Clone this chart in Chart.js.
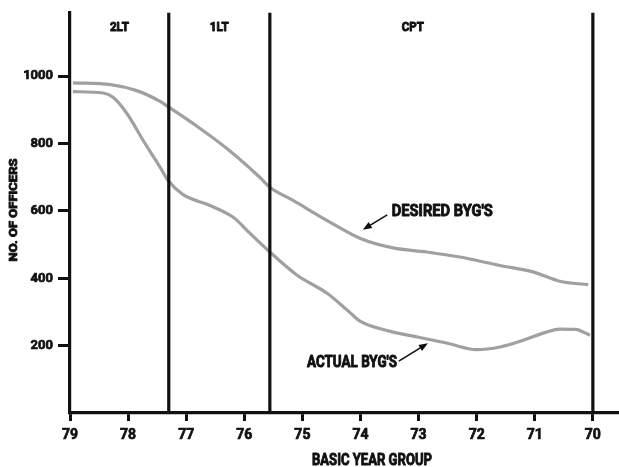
<!DOCTYPE html>
<html><head><meta charset="utf-8">
<script src="https://cdn.jsdelivr.net/npm/chart.js@4"></script>
<style>html,body{margin:0;padding:0;background:#fff}#wrap{width:619px;height:467px}</style>
</head><body><div id="wrap"><canvas id="c" width="619" height="467"></canvas></div>
<script>
// ---- data ----
const yearTicks = [79, 78, 77, 76, 75, 74, 73, 72, 71, 70];
const valueTicks = [200, 400, 600, 800, 1000];
const desiredYears  = [78.95, 78.3, 77.85, 77.45, 77.3, 76.88, 76.3, 75.73, 75.56, 75.16, 74.58, 74.0, 73.44, 72.86, 72.29, 71.6, 71.03, 70.57, 70.08];
const desiredValues = [980, 975, 957, 925, 908, 859, 785, 699, 670, 631, 572, 518, 490, 478, 463, 438, 419, 391, 381];
const actualYears  = [78.95, 78.43, 78.26, 78.02, 77.74, 77.45, 77.31, 77.06, 76.59, 76.19, 75.9, 75.56, 75.09, 74.58, 74.18, 74.0, 73.5, 73.0, 72.5, 72.0, 71.6, 71.2, 70.8, 70.57, 70.3, 70.05];
const actualValues = [954, 950, 937, 889, 809, 730, 690, 649, 616, 581, 533, 478, 409, 356, 298, 272, 243, 225, 207, 188, 196, 216, 240, 249, 248, 231];
const rankNames = ['2LT', '1LT', 'CPT'];
const rankBoundaries = [77.3, 75.56, 70];
const rankLabelYears = [78.15, 76.43, 73.1];
const seriesNames = ["DESIRED BYG'S", "ACTUAL BYG'S"];
// ----

const FONT = "Roboto, 'DejaVu Sans', sans-serif";
const X_MIN = 69.55, X_MAX = 79, Y_MAX = 1188;

const notes = [
  {text: seriesNames[0], tx: 73.46, ty: 596, w: 101, from: [73.54, 588], to: [73.96, 544]},
  {text: seriesNames[1], tx: 74.92, ty: 148, w: 90, from: [73.34, 154], to: [72.84, 207]}
];
const rankWidths = [19, 19, 22];

const toXY = (xs, ys) => xs.map((x, i) => ({x: x, y: ys[i]}));

const boundarySets = rankBoundaries.map(b => ({
  data: [{x: b, y: 0}, {x: b, y: Y_MAX}],
  borderColor: '#111', borderWidth: 3.2, pointRadius: 0, tension: 0, clip: false
}));

function fitText(ctx, text, x, y, size, width, align) {
  ctx.save();
  ctx.font = 'bold ' + size + 'px ' + FONT;
  const m = ctx.measureText(text).width;
  const sx = width / m;
  ctx.translate(x, y);
  ctx.scale(sx, 1);
  ctx.textAlign = align; ctx.textBaseline = 'middle';
  ctx.lineWidth = 0.9; ctx.lineJoin = 'round';
  ctx.fillText(text, 0, 0);
  ctx.strokeText(text, 0, 0);
  ctx.restore();
}

const overlay = {
  id: 'overlay',
  afterDraw(chart) {
    const ctx = chart.ctx, xs = chart.scales.x, ys = chart.scales.y, ca = chart.chartArea;
    ctx.save();
    ctx.fillStyle = '#111';
    ctx.strokeStyle = '#111';
    rankNames.forEach((n, i) => fitText(ctx, n, xs.getPixelForValue(rankLabelYears[i]), ca.top + 15, 12, rankWidths[i], 'center'));
    fitText(ctx, 'BASIC YEAR GROUP', ca.left + (ca.right - ca.left) * 0.55, 461, 16, 120, 'center');
    ctx.save();
    ctx.translate(14, 210); ctx.rotate(-Math.PI / 2);
    fitText(ctx, 'NO. OF OFFICERS', 0, 0, 11.5, 103, 'center');
    ctx.restore();
    notes.forEach(n => {
      fitText(ctx, n.text, xs.getPixelForValue(n.tx), ys.getPixelForValue(n.ty), 16, n.w, 'left');
      const x1 = xs.getPixelForValue(n.from[0]), y1 = ys.getPixelForValue(n.from[1]);
      const x2 = xs.getPixelForValue(n.to[0]), y2 = ys.getPixelForValue(n.to[1]);
      const a = Math.atan2(y2 - y1, x2 - x1);
      ctx.lineWidth = 1.6;
      ctx.beginPath(); ctx.moveTo(x1, y1);
      ctx.lineTo(x2 - 6 * Math.cos(a), y2 - 6 * Math.sin(a)); ctx.stroke();
      ctx.beginPath();
      ctx.moveTo(x2, y2);
      ctx.lineTo(x2 - 9 * Math.cos(a) + 3.5 * Math.sin(a), y2 - 9 * Math.sin(a) - 3.5 * Math.cos(a));
      ctx.lineTo(x2 - 9 * Math.cos(a) - 3.5 * Math.sin(a), y2 - 9 * Math.sin(a) + 3.5 * Math.cos(a));
      ctx.closePath(); ctx.fill();
    });
    ctx.restore();
  }
};

new Chart(document.getElementById('c'), {
  type: 'line',
  data: {
    datasets: [
      ...boundarySets,
      {label: seriesNames[0], data: toXY(desiredYears, desiredValues), borderColor: '#a0a0a0', borderWidth: 3.2, pointRadius: 0, tension: 0.4, cubicInterpolationMode: 'monotone'},
      {label: seriesNames[1], data: toXY(actualYears, actualValues), borderColor: '#a0a0a0', borderWidth: 3.2, pointRadius: 0, tension: 0.4, cubicInterpolationMode: 'monotone'}
    ]
  },
  options: {
    responsive: false, animation: false, devicePixelRatio: 1,
    layout: {padding: {top: 12, right: 0, left: 0, bottom: 0}},
    plugins: {legend: {display: false}, tooltip: {enabled: false}},
    scales: {
      x: {
        type: 'linear', reverse: true, min: X_MIN, max: X_MAX,
        afterBuildTicks: s => { s.ticks = yearTicks.map(v => ({value: v})); },
        afterFit: s => { s.height = 54; },
        grid: {drawOnChartArea: false, drawTicks: true, tickLength: 8, tickWidth: 3, tickColor: '#111'},
        border: {display: true, color: '#111', width: 3.2},
        ticks: {color: '#111', textStrokeColor: '#111', textStrokeWidth: 0.7, padding: 6, maxRotation: 0, autoSkip: false, font: {family: FONT, size: 14, weight: 'bold'}, callback: v => String(v)}
      },
      y: {
        type: 'linear', min: 0, max: Y_MAX,
        afterBuildTicks: s => { s.ticks = valueTicks.map(v => ({value: v})); },
        afterFit: s => { s.width = 70; },
        grid: {drawOnChartArea: false, drawTicks: true, tickLength: 12, tickWidth: 3, tickColor: '#111'},
        border: {display: true, color: '#111', width: 3.2},
        ticks: {color: '#111', textStrokeColor: '#111', textStrokeWidth: 0.7, padding: 5, font: {family: FONT, size: 13, weight: 'bold'}, callback: v => String(v)}
      }
    }
  },
  plugins: [overlay]
});
</script></body></html>
